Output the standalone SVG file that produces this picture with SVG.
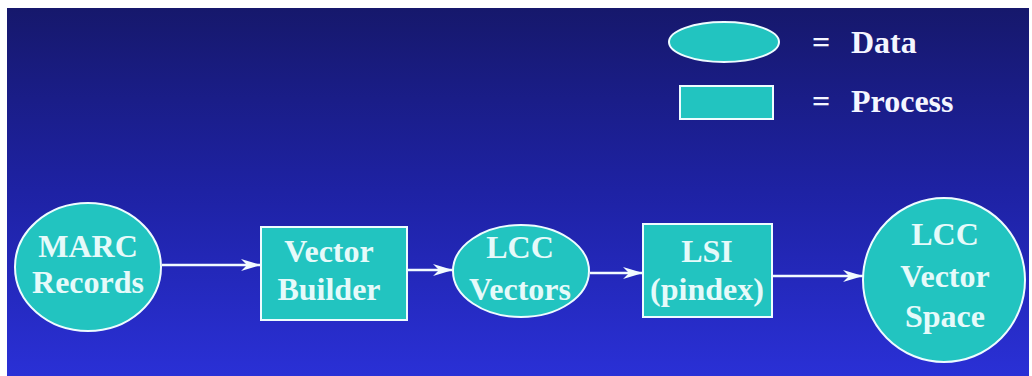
<svg xmlns="http://www.w3.org/2000/svg" width="1032" height="376" viewBox="0 0 1032 376">
  <defs>
    <linearGradient id="bg" x1="0" y1="0" x2="0" y2="1">
      <stop offset="0" stop-color="#16186c"/>
      <stop offset="0.5" stop-color="#1e22a4"/>
      <stop offset="1" stop-color="#2a30d6"/>
    </linearGradient>
    <marker id="dart" viewBox="0 0 20 14" refX="20" refY="7" markerWidth="20" markerHeight="14" markerUnits="userSpaceOnUse" orient="auto">
      <path d="M0,1 L20,7 L0,13 L6,7 Z" fill="#f2fbff"/>
    </marker>
  </defs>
  <style>
    .data { fill: #22c4c0; stroke: #eefcff; stroke-width: 2; }
    .proc { fill: #22c4c0; stroke: #eefcff; stroke-width: 2; }
    .lbl { font-family: "Liberation Serif", "Times New Roman", serif; font-weight: bold; font-size: 32px; fill: #e6fafa; text-anchor: middle; }
    .key { font-family: "Liberation Serif", "Times New Roman", serif; font-weight: bold; font-size: 32px; fill: #f4f6ff; }
    .wire { stroke: #f2fbff; stroke-width: 2.5; fill: none; marker-end: url(#dart); }
  </style>

  <!-- page frame and slide background -->
  <rect x="0" y="0" width="1032" height="376" fill="#ffffff"/>
  <rect x="7" y="8" width="1022" height="368" fill="url(#bg)"/>

  <!-- legend -->
  <g id="legend">
    <ellipse class="data" cx="724" cy="42" rx="55" ry="20"/>
    <text class="key" x="812" y="53">=</text>
    <text class="key" x="851" y="53">Data</text>
    <rect class="proc" x="680" y="86" width="93" height="33"/>
    <text class="key" x="812" y="112">=</text>
    <text class="key" x="851" y="112">Process</text>
  </g>

  <!-- connectors -->
  <g id="connectors">
    <line class="wire" x1="162" y1="265" x2="261" y2="265"/>
    <line class="wire" x1="407" y1="270" x2="453" y2="270"/>
    <line class="wire" x1="590" y1="273" x2="643" y2="273"/>
    <line class="wire" x1="772" y1="276" x2="863" y2="276"/>
  </g>

  <!-- nodes -->
  <g id="marc-records">
    <ellipse class="data" cx="88" cy="267" rx="73" ry="64"/>
    <text class="lbl" x="88" y="257">MARC</text>
    <text class="lbl" x="88" y="293">Records</text>
  </g>

  <g id="vector-builder">
    <rect class="proc" x="261" y="227" width="146" height="93"/>
    <text class="lbl" x="329" y="262">Vector</text>
    <text class="lbl" x="329" y="300">Builder</text>
  </g>

  <g id="lcc-vectors">
    <ellipse class="data" cx="521" cy="271" rx="68" ry="46"/>
    <text class="lbl" x="520" y="258">LCC</text>
    <text class="lbl" x="520" y="300">Vectors</text>
  </g>

  <g id="lsi">
    <rect class="proc" x="643" y="224" width="129" height="93"/>
    <text class="lbl" x="707" y="262">LSI</text>
    <text class="lbl" x="707" y="300">(pindex)</text>
  </g>

  <g id="lcc-vector-space">
    <ellipse class="data" cx="944" cy="280" rx="81" ry="82"/>
    <text class="lbl" x="945" y="245">LCC</text>
    <text class="lbl" x="945" y="287">Vector</text>
    <text class="lbl" x="945" y="327">Space</text>
  </g>
</svg>
